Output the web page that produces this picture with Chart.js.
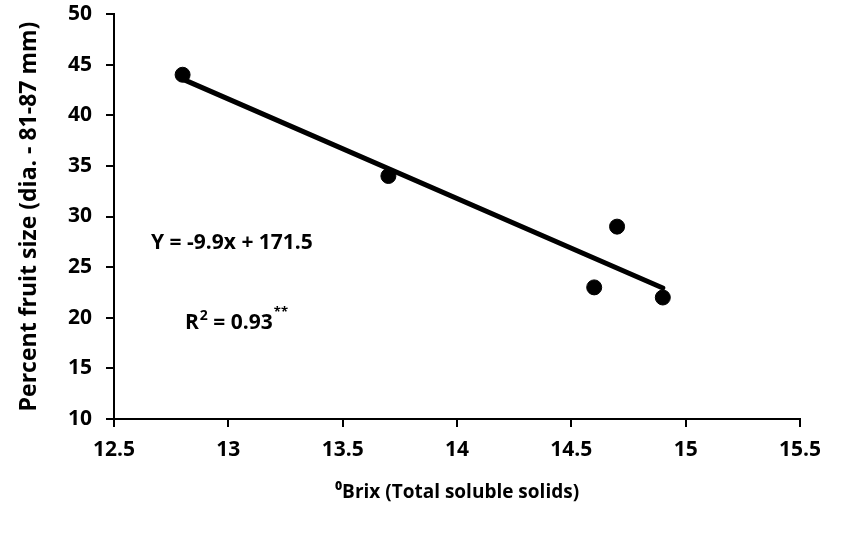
<!DOCTYPE html>
<html>
<head>
<meta charset="utf-8">
<script src="https://cdn.jsdelivr.net/npm/chart.js@4/dist/chart.umd.min.js"></script>
<style>
    body { margin: 0; background: #fff; }
    #wrap { width: 842px; height: 533px; }
</style>
</head>
<body>
<div id="wrap"><canvas id="brixChart" width="842" height="533"></canvas></div>
<script>
// Brix readings and share of fruit in the 81-87 mm class
const brixValues = [12.8, 13.7, 14.6, 14.7, 14.9];
const fruitSize = [44, 34, 23, 29, 22];
const xTicks = [12.5, 13, 13.5, 14, 14.5, 15, 15.5];
const yTicks = [10, 15, 20, 25, 30, 35, 40, 45, 50];
const equationText = 'Y = -9.9x + 171.5';
const r2Text = '0.93';

const fontFamily = '"Open Sans", "Liberation Sans", sans-serif';
const tickLen = 8;

// least squares line through the points
function linearFit(xs, ys) {
    const n = xs.length;
    const mx = xs.reduce((a, b) => a + b, 0) / n;
    const my = ys.reduce((a, b) => a + b, 0) / n;
    let sxy = 0, sxx = 0;
    for (let i = 0; i < n; i++) {
        sxy += (xs[i] - mx) * (ys[i] - my);
        sxx += (xs[i] - mx) * (xs[i] - mx);
    }
    const slope = sxy / sxx;
    return { slope: slope, intercept: my - slope * mx };
}

const fit = linearFit(brixValues, fruitSize);
const xMin = Math.min(...brixValues);
const xMax = Math.max(...brixValues);
const trendPoints = [
    { x: xMin, y: fit.slope * xMin + fit.intercept },
    { x: xMax, y: fit.slope * xMax + fit.intercept }
];

// outward tick marks on both axes
const axisTicks = {
    id: 'axisTicks',
    afterDraw(chart) {
        const ctx = chart.ctx;
        const xs = chart.scales.x, ys = chart.scales.y;
        const area = chart.chartArea;
        ctx.save();
        ctx.strokeStyle = '#000';
        ctx.lineWidth = 2;
        ctx.beginPath();
        xTicks.forEach(v => {
            const px = Math.round(xs.getPixelForValue(v));
            ctx.moveTo(px, area.bottom);
            ctx.lineTo(px, area.bottom + tickLen);
        });
        yTicks.forEach(v => {
            const py = Math.round(ys.getPixelForValue(v));
            ctx.moveTo(area.left, py);
            ctx.lineTo(area.left - tickLen, py);
        });
        ctx.stroke();
        ctx.restore();
    }
};

// equation and R² written inside the plot
const equationLabels = {
    id: 'equationLabels',
    afterDatasetsDraw(chart) {
        const ctx = chart.ctx;
        ctx.save();
        ctx.fillStyle = '#000';
        ctx.textBaseline = 'middle';
        ctx.textAlign = 'left';
        ctx.font = 'bold 21px ' + fontFamily;
        ctx.fillText(equationText, 151, 243);

        const rx = 185, ry = 323;
        ctx.fillText('R', rx, ry);
        const w = ctx.measureText('R').width;
        ctx.font = 'bold 14px ' + fontFamily;
        ctx.fillText('2', rx + w + 1, ry - 7);
        const w2 = ctx.measureText('2').width;
        ctx.font = 'bold 21px ' + fontFamily;
        const rest = ' = ' + r2Text;
        ctx.fillText(rest, rx + w + w2 + 1, ry);
        const w3 = ctx.measureText(rest).width;
        ctx.font = 'bold 13px ' + fontFamily;
        ctx.fillText('**', rx + w + w2 + w3 + 2, ry - 11);
        ctx.restore();
    }
};

const ctx = document.getElementById('brixChart').getContext('2d');
const brixChart = new Chart(ctx, {
    type: 'scatter',
    data: {
        datasets: [{
            data: brixValues.map((v, i) => ({ x: v, y: fruitSize[i] })),
            backgroundColor: '#000',
            borderColor: '#000',
            pointRadius: 7.5,
            pointHoverRadius: 7.5
        }, {
            type: 'line',
            data: trendPoints,
            borderColor: '#000',
            borderWidth: 5,
            pointRadius: 0,
            borderCapStyle: 'round',
            fill: false
        }]
    },
    options: {
        responsive: false,
        animation: false,
        layout: { padding: { top: 14, right: 42, left: 0, bottom: 0 } },
        plugins: {
            legend: { display: false },
            tooltip: { enabled: false }
        },
        scales: {
            x: {
                type: 'linear',
                min: 12.5,
                max: 15.5,
                afterBuildTicks: (s) => { s.ticks = xTicks.map(v => ({ value: v })); },
                afterFit: (s) => {
                    s.height = 114;
                    s.paddingLeft = 0;
                    s.paddingRight = 0;
                },
                border: { color: '#000', width: 2 },
                grid: { drawOnChartArea: false, color: '#000', tickLength: tickLen },
                ticks: {
                    color: '#000',
                    padding: 10,
                    callback: (v) => String(v),
                    font: { family: fontFamily, size: 21, weight: 'bold' }
                },
                title: {
                    display: true,
                    text: '\u2070Brix (Total soluble solids)',
                    color: '#000',
                    padding: { top: 0, bottom: 29 },
                    font: { family: fontFamily, size: 19, weight: 'bold' }
                }
            },
            y: {
                min: 10,
                max: 50,
                afterBuildTicks: (s) => { s.ticks = yTicks.map(v => ({ value: v })); },
                afterFit: (s) => {
                    s.width = 114;
                    s.paddingTop = 0;
                    s.paddingBottom = 0;
                },
                border: { color: '#000', width: 2 },
                grid: { drawOnChartArea: false, color: '#000', tickLength: tickLen },
                ticks: {
                    color: '#000',
                    padding: 14,
                    callback: (v) => String(v),
                    font: { family: fontFamily, size: 21, weight: 'bold' }
                },
                title: {
                    display: true,
                    text: 'Percent fruit size (dia. - 81-87 mm)',
                    color: '#000',
                    padding: { top: 16 },
                    font: { family: fontFamily, size: 23, weight: 'bold' }
                }
            }
        }
    },
    plugins: [axisTicks, equationLabels]
});
</script>
</body>
</html>
